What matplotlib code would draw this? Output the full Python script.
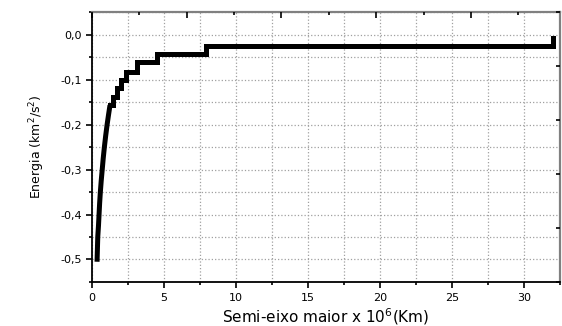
import matplotlib.pyplot as plt
from matplotlib.ticker import MultipleLocator, FuncFormatter

plt.rcParams['font.family'] = ['DejaVu Sans']

# semi-eixo maior (x 10^6 km) and energia (km^2/s^2)
# steep, continuous part
semi_eixo_curva = [0.35, 0.40, 0.45, 0.49, 0.53, 0.58, 0.64, 0.71, 0.78,
                   0.86, 0.95, 1.05, 1.15, 1.25]
energia_curva = [-0.505, -0.450, -0.425, -0.400, -0.375, -0.350, -0.325,
                 -0.300, -0.275, -0.250, -0.225, -0.200, -0.178, -0.157]
# stepped part
semi_eixo_degraus = [1.25, 1.43, 1.71, 2.01, 2.36, 3.10, 4.49, 7.90, 32.0]
energia_degraus = [-0.157, -0.138, -0.118, -0.100, -0.083, -0.062, -0.044,
                   -0.025, -0.007]

fig = plt.figure(figsize=(5.62, 3.26), dpi=100)
ax = fig.add_axes([0.1637, 0.135, 0.8327, 0.828])

ax.plot(semi_eixo_curva, energia_curva, color='black', lw=3.6,
        solid_capstyle='butt', zorder=3)
ax.step(semi_eixo_degraus, energia_degraus, where='post', color='black',
        lw=3.6, solid_joinstyle='miter', zorder=3)

ax.set_xlim(0, 32.5)
ax.set_ylim(-0.55, 0.05)
ax.xaxis.set_major_locator(MultipleLocator(5))
ax.xaxis.set_minor_locator(MultipleLocator(2.5))
ax.yaxis.set_major_locator(MultipleLocator(0.1))
ax.yaxis.set_minor_locator(MultipleLocator(0.05))
ax.yaxis.set_major_formatter(FuncFormatter(
    lambda v, p: ('%.1f' % v).replace('.', ',').replace('-0,0', '0,0')))

ax.grid(True, which='both', color='#a0a0a0', ls=':', lw=0.9)
ax.tick_params(which='both', direction='out', labelsize=8, width=1.2,
               top=False, right=False, colors='black')
ax.tick_params(which='major', length=4)
ax.tick_params(which='minor', length=2.5)
ax.tick_params(axis='x', pad=4)

for s in ['left', 'bottom']:
    ax.spines[s].set_linewidth(1.3)
for s in ['top', 'right']:
    ax.spines[s].set_color('#808080')
    ax.spines[s].set_linewidth(1.6)

ax.set_xlabel('Semi-eixo maior x 10$^6$(Km)', fontsize=11, labelpad=2)
ax.set_ylabel('Energia (km$^2$/s$^2$)', fontsize=9, labelpad=9)

# stray top / right ticks seen in the original
top = ax.twiny()
top.set_xlim(0, 4.94)
top.xaxis.set_major_locator(MultipleLocator(1))
top.xaxis.set_minor_locator(MultipleLocator(0.5))
top.tick_params(which='both', direction='in', labeltop=False, width=1.2,
                colors='black')
top.tick_params(which='major', length=4)
top.tick_params(which='minor', length=2.5)
right = ax.twinx()
right.set_ylim(0, 5)
right.yaxis.set_major_locator(MultipleLocator(1))
right.tick_params(direction='in', labelright=False, length=3, width=1.2)
for a in (top, right):
    for s in a.spines.values():
        s.set_visible(False)

fig.savefig('out.png', dpi=100)
